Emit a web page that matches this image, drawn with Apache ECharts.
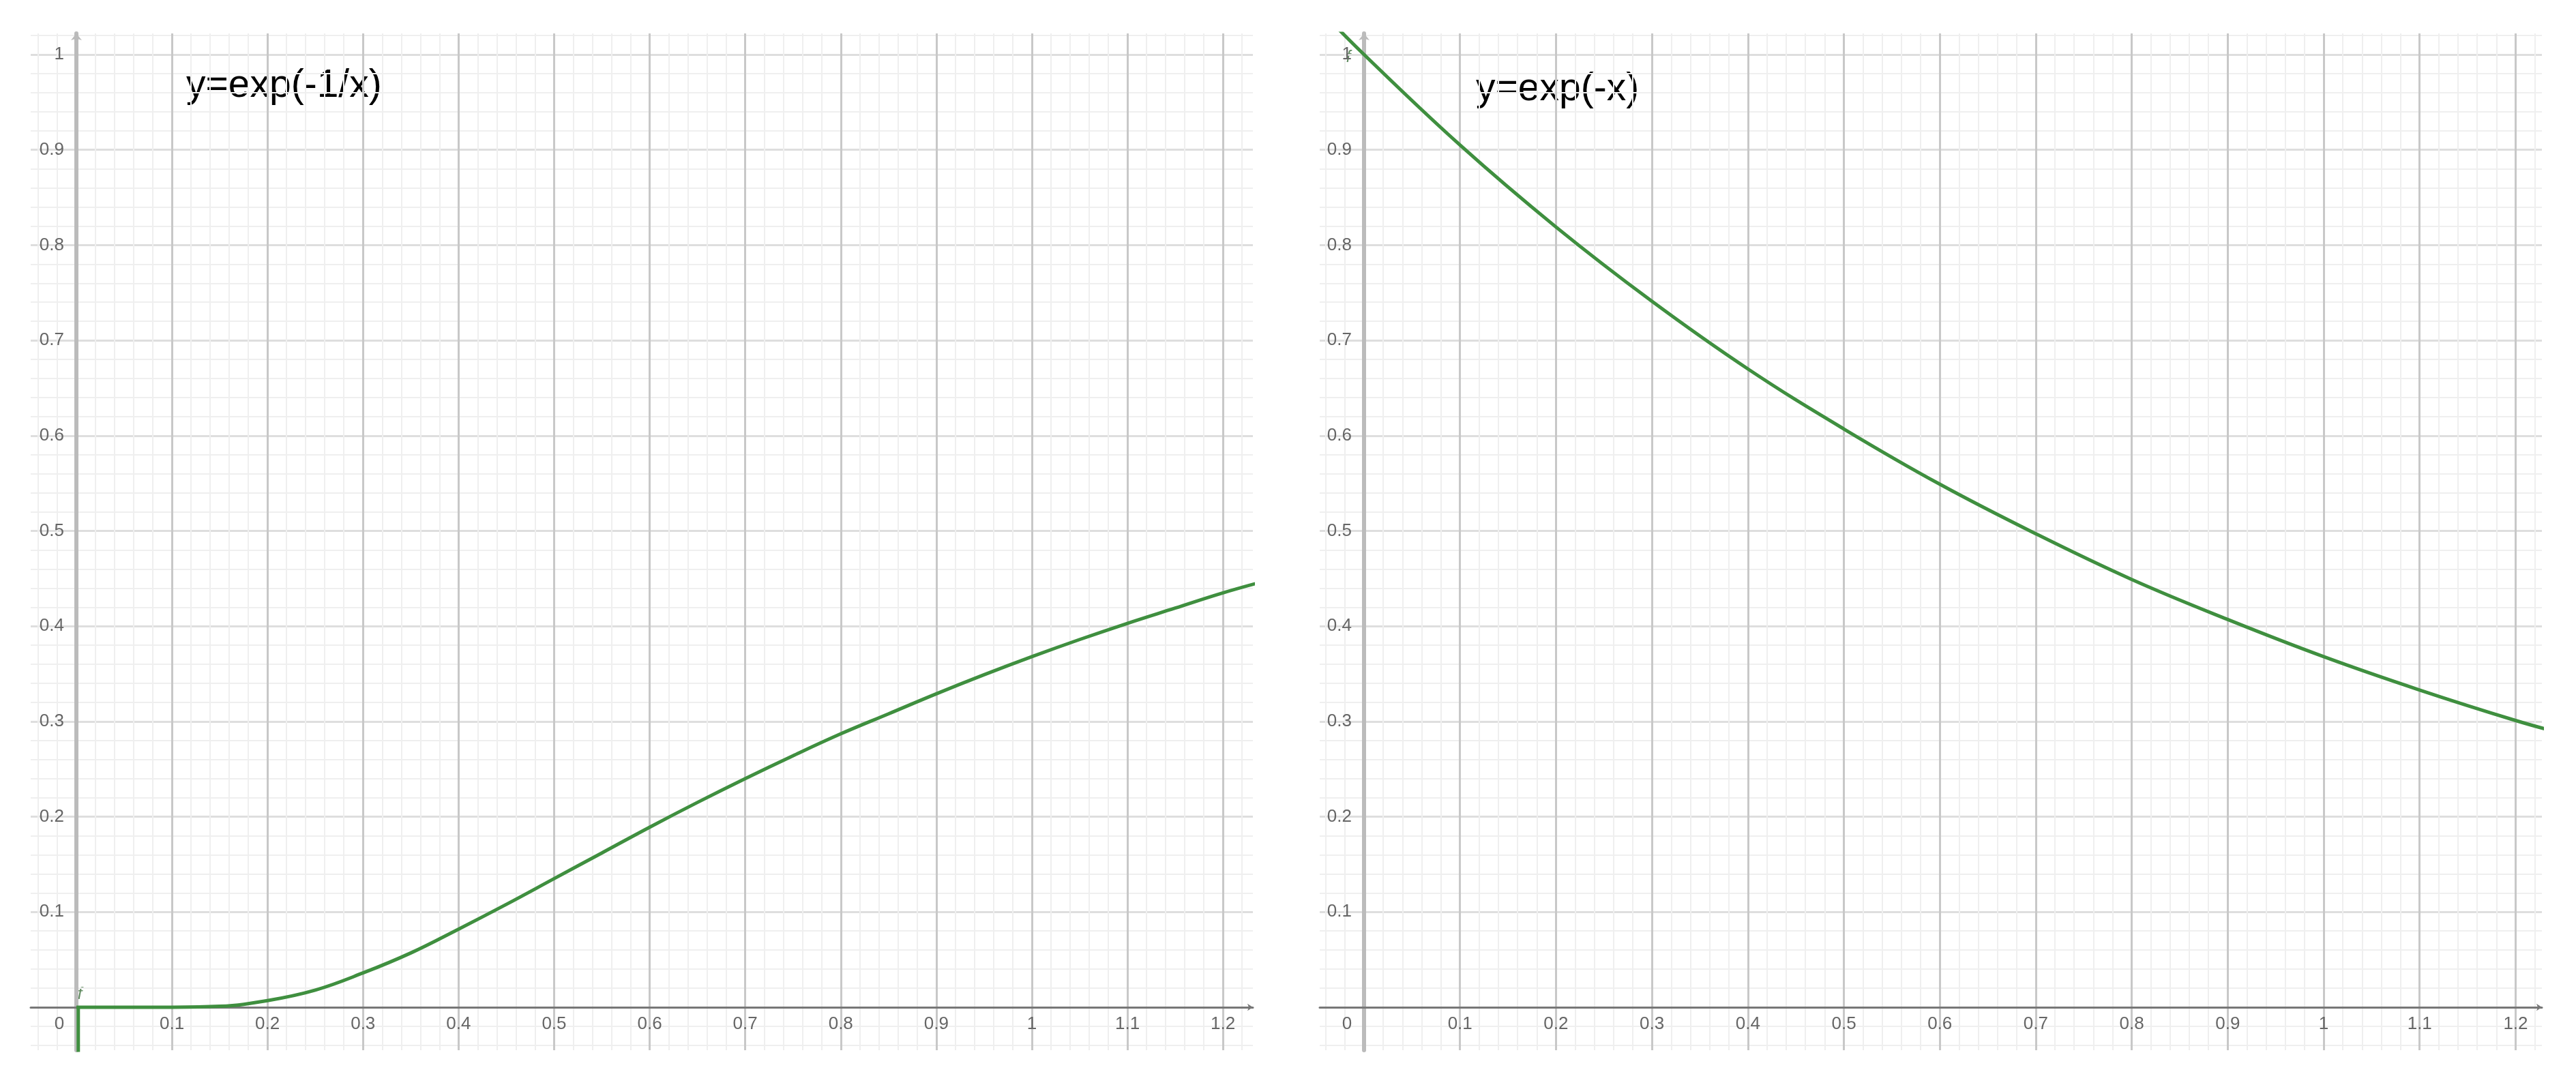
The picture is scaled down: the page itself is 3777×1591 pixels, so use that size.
<!DOCTYPE html>
<html>
<head>
<meta charset="utf-8">
<title>exp(-1/x) / exp(-x)</title>
<script src="https://cdn.jsdelivr.net/npm/echarts@6/dist/echarts.min.js"></script>
<style>
html, body { margin: 0; padding: 0; background: #fff; }
#chart { width: 3777px; height: 1591px; }
</style>
</head>
<body>
<div id="chart"></div>
<script>
// values
const leftX = [0, 0.05, 0.1, 0.15, 0.2, 0.25, 0.3, 0.35, 0.4, 0.45, 0.5, 0.55, 0.6, 0.65, 0.7, 0.75, 0.8, 0.85, 0.9, 0.95, 1.0, 1.05, 1.1, 1.15, 1.2, 1.25];
const leftY = [0, 0, 0, 0.001, 0.007, 0.018, 0.036, 0.057, 0.082, 0.108, 0.135, 0.162, 0.189, 0.215, 0.240, 0.264, 0.287, 0.308, 0.329, 0.349, 0.368, 0.386, 0.403, 0.419, 0.435, 0.449];
// short green stroke under the origin of the left plot
const stubX = [0.002, 0.002];
const stubY = [-0.1, 0];

const rightX = [-0.05, 0, 0.1, 0.2, 0.3, 0.4, 0.5, 0.6, 0.7, 0.8, 0.9, 1.0, 1.1, 1.2, 1.25];
const rightY = [1.051, 1.0, 0.905, 0.819, 0.741, 0.670, 0.607, 0.549, 0.497, 0.449, 0.407, 0.368, 0.333, 0.301, 0.287];

const titles = ['y=exp(-1/x)', 'y=exp(-x)'];

const green = '#3f8f3f';
const labelColor = '#666';

function pairs(xs, ys) {
	return xs.map((x, i) => [x, ys[i]]);
}

function fmt(v) {
	return String(+v.toFixed(2));
}

function xAxisFor(idx, min, max) {
	return {
		type: 'value',
		gridIndex: idx,
		min: min,
		max: max,
		splitNumber: 12,
		minInterval: 0.1,
		maxInterval: 0.1,
		axisLine: {
			onZero: true,
			symbol: ['none', 'arrow'],
			symbolSize: [8, 8],
			lineStyle: { color: '#777', width: 3 }
		},
		axisTick: { show: false },
		axisLabel: {
			showMinLabel: false,
			showMaxLabel: false,
			fontSize: 26,
			fontFamily: 'Liberation Sans',
			color: labelColor,
			// labels sit just under the y=0 line, not under the grid edge
			margin: -51,
			formatter: (v) => Math.abs(v) < 1e-9 ? '{o|0}' : fmt(v),
			rich: {
				o: { padding: [0, 50, 0, 0], fontSize: 26, fontFamily: 'Liberation Sans', color: labelColor }
			}
		},
		splitLine: {
			show: true,
			showMinLine: false,
			showMaxLine: false,
			lineStyle: { color: '#c8c8c8', width: 3 }
		},
		minorTick: { show: false, splitNumber: 5 },
		minorSplitLine: { show: true, lineStyle: { color: '#efefef', width: 2 } }
	};
}

function yAxisFor(idx, margin) {
	return {
		type: 'value',
		gridIndex: idx,
		min: -0.0451,
		max: 1.0222,
		splitNumber: 10,
		minInterval: 0.1,
		maxInterval: 0.1,
		axisLine: {
			onZero: true,
			symbol: ['none', 'arrow'],
			symbolSize: [12, 10],
			lineStyle: { color: '#bbbbbb', width: 6 }
		},
		axisTick: { show: false },
		axisLabel: {
			showMinLabel: false,
			showMaxLabel: false,
			fontSize: 26,
			fontFamily: 'Liberation Sans',
			color: labelColor,
			// labels sit just left of the x=0 line
			margin: margin,
			formatter: (v) => Math.abs(v) < 1e-9 ? '' : fmt(v)
		},
		splitLine: {
			show: true,
			showMinLine: false,
			showMaxLine: false,
			lineStyle: { color: '#dedede', width: 3 }
		},
		minorTick: { show: false, splitNumber: 5 },
		minorSplitLine: { show: true, lineStyle: { color: '#efefef', width: 2 } }
	};
}

function curve(idx, data) {
	return {
		type: 'line',
		xAxisIndex: idx,
		yAxisIndex: idx,
		data: data,
		smooth: 0.4,
		showSymbol: false,
		silent: true,
		clip: true,
		z: 3,
		lineStyle: { color: green, width: 5 }
	};
}

let myChart = echarts.init(document.getElementById('chart'));
let option = {
	animation: false,
	backgroundColor: '#fff',
	grid: [
		{ left: 45, top: 49, width: 1792, height: 1491, outerBoundsMode: 'none', containLabel: false },
		{ left: 1935, top: 49, width: 1792, height: 1491, outerBoundsMode: 'none', containLabel: false }
	],
	xAxis: [
		xAxisFor(0, -0.0478, 1.2313),
		xAxisFor(1, -0.0462, 1.2274)
	],
	yAxis: [
		yAxisFor(0, -49),
		yAxisFor(1, -47)
	],
	series: [
		curve(0, pairs(leftX, leftY)),
		curve(0, pairs(stubX, stubY)),
		curve(1, pairs(rightX, rightY))
	],
	graphic: [
		{ type: 'text', style: { x: 273, y: 126, text: titles[0], font: '57px "Liberation Sans"', fill: '#000', align: 'left', verticalAlign: 'middle' } },
		{ type: 'text', style: { x: 2164, y: 131, text: titles[1], font: '57px "Liberation Sans"', fill: '#000', align: 'left', verticalAlign: 'middle' } },
		{ type: 'text', style: { x: 117, y: 1458, text: 'f', font: 'italic 24px "Liberation Sans"', fill: '#5f8a5f', align: 'center', verticalAlign: 'middle' } },
		{ type: 'text', style: { x: 1977, y: 84, text: 'f', font: 'italic 24px "Liberation Sans"', fill: '#5f8a5f', align: 'center', verticalAlign: 'middle' } }
	]
};
myChart.setOption(option);
</script>
</body>
</html>
